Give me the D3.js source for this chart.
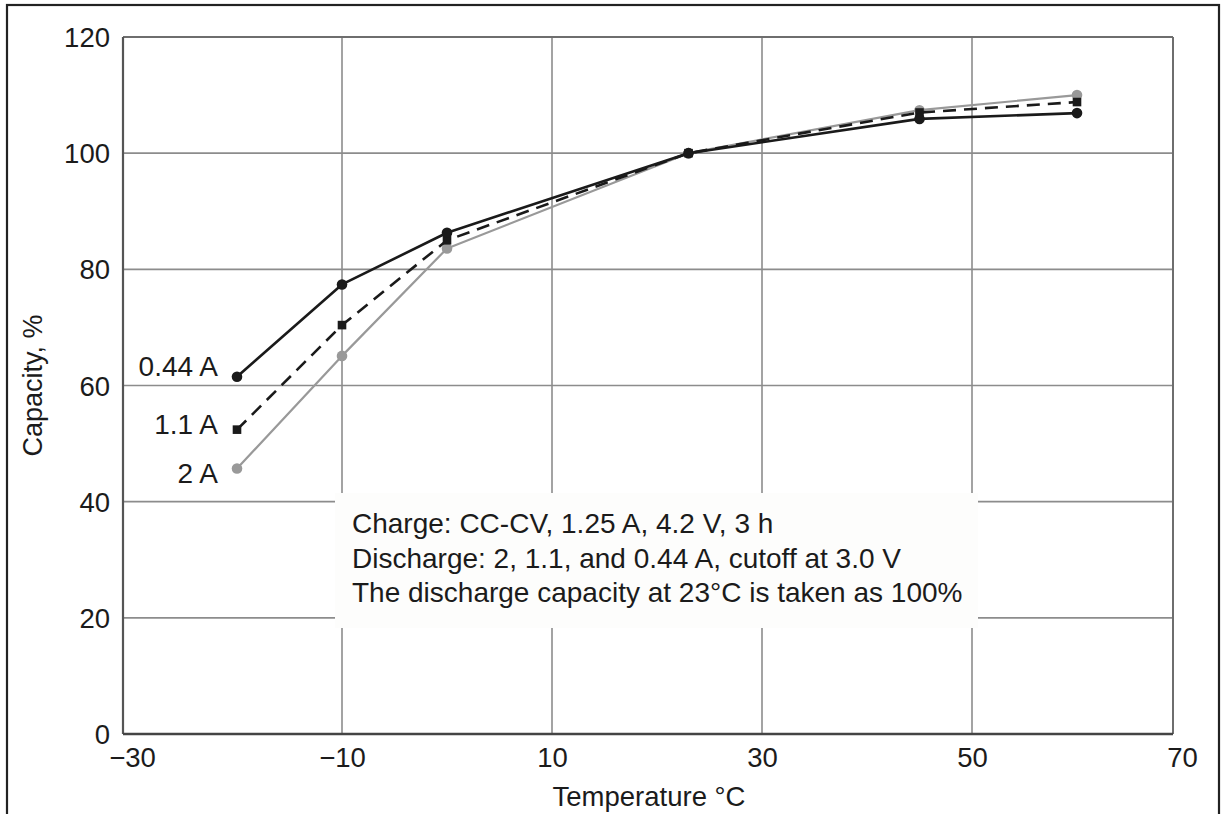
<!DOCTYPE html>
<html>
<head>
<meta charset="utf-8">
<script src="https://cdn.jsdelivr.net/npm/d3@7"></script>
<style>
  body { margin: 0; background: #fff; }
  svg { display: block; }
  text { font-family: "Liberation Sans", Arial, Helvetica, sans-serif; fill: #1b1b1b; }
</style>
</head>
<body>
<svg id="chart" width="1221" height="814"></svg>
<script>
// Discharge capacity (% of the 23 °C value) versus temperature, three discharge currents
const temperatures = [-20, -10, 0, 23, 45, 60];
const capacity044A = [61.5, 77.4, 86.3, 100, 105.9, 106.9];
const capacity11A  = [52.4, 70.4, 85.0, 100, 107.0, 108.8];
const capacity2A   = [45.7, 65.1, 83.6, 100, 107.4, 110.0];
const seriesLabels = ["0.44 A", "1.1 A", "2 A"];

const xTickValues = [-30, -10, 10, 30, 50, 70];
const yTickValues = [0, 20, 40, 60, 80, 100, 120];

const noteLines = [
  "Charge: CC-CV, 1.25 A, 4.2 V, 3 h",
  "Discharge: 2, 1.1, and 0.44 A, cutoff at 3.0 V",
  "The discharge capacity at 23\u00B0C is taken as 100%"
];

const svg = d3.select("#chart");

const x = d3.scaleLinear().domain([-30, 70]).range([132, 1182]);
const y = d3.scaleLinear().domain([0, 120]).range([734, 37]);

// plot frame sits slightly left of the tick positions
const frameShift = -9;
const frameLeft = x(-30) + frameShift;
const frameRight = x(70) + frameShift;

// outer figure border
svg.append("rect")
  .attr("x", 7).attr("y", 5).attr("width", 1212).attr("height", 840)
  .attr("fill", "none").attr("stroke", "#222").attr("stroke-width", 2.2);

// horizontal grid lines
svg.append("g")
  .selectAll("line")
  .data(yTickValues.filter(v => v > 0 && v < 120))
  .join("line")
  .attr("x1", frameLeft).attr("x2", frameRight)
  .attr("y1", d => y(d)).attr("y2", d => y(d))
  .attr("stroke", "#8c8c8c").attr("stroke-width", 1.6);

// vertical grid lines
svg.append("g")
  .selectAll("line")
  .data(xTickValues.filter(v => v > -30 && v < 70))
  .join("line")
  .attr("x1", d => x(d)).attr("x2", d => x(d))
  .attr("y1", y(0)).attr("y2", y(120))
  .attr("stroke", "#8c8c8c").attr("stroke-width", 1.6);

// frame: top/right lighter, left/bottom darker
svg.append("line").attr("x1", frameLeft).attr("x2", frameRight).attr("y1", y(120)).attr("y2", y(120))
  .attr("stroke", "#6e6e6e").attr("stroke-width", 2);
svg.append("line").attr("x1", frameRight).attr("x2", frameRight).attr("y1", y(120)).attr("y2", y(0))
  .attr("stroke", "#6e6e6e").attr("stroke-width", 2);
svg.append("line").attr("x1", frameLeft).attr("x2", frameLeft).attr("y1", y(120)).attr("y2", y(0))
  .attr("stroke", "#555").attr("stroke-width", 2.2);
svg.append("line").attr("x1", frameLeft).attr("x2", frameRight).attr("y1", y(0)).attr("y2", y(0))
  .attr("stroke", "#444").attr("stroke-width", 2.4);

// note box masks the grid behind it
svg.append("rect")
  .attr("x", 335).attr("y", 493).attr("width", 643).attr("height", 135)
  .attr("fill", "#fdfdfc");

svg.append("g")
  .selectAll("text")
  .data(noteLines)
  .join("text")
  .attr("x", 352)
  .attr("y", (d, i) => 533 + i * 34.5)
  .attr("font-size", 28)
  .text(d => d);

// x axis tick labels
const xAxis = d3.axisBottom(x).tickValues(xTickValues).tickSize(0).tickPadding(0)
  .tickFormat(d3.format("d"));
svg.append("g")
  .attr("transform", `translate(0,${y(0)})`)
  .call(xAxis)
  .call(g => g.select(".domain").remove())
  .call(g => g.selectAll("text").attr("font-size", 27.5).attr("fill", "#1b1b1b")
    .attr("font-family", "Liberation Sans, Arial, sans-serif").attr("dy", null).attr("y", 33));

// y axis tick labels
const yAxis = d3.axisLeft(y).tickValues(yTickValues).tickSize(0).tickPadding(0);
svg.append("g")
  .attr("transform", `translate(110,0)`)
  .call(yAxis)
  .call(g => g.select(".domain").remove())
  .call(g => g.selectAll("text").attr("font-size", 27.5).attr("fill", "#1b1b1b")
    .attr("font-family", "Liberation Sans, Arial, sans-serif").attr("x", 0).attr("dy", "0.35em"));

// axis titles
svg.append("text")
  .attr("x", (frameLeft + frameRight) / 2 + 1).attr("y", 806)
  .attr("text-anchor", "middle").attr("font-size", 27.5)
  .text("Temperature \u00B0C");

svg.append("text")
  .attr("transform", `translate(42,${(y(0) + y(120)) / 2}) rotate(-90)`)
  .attr("text-anchor", "middle").attr("font-size", 27)
  .text("Capacity, %");

// series
const series = [
  { name: seriesLabels[0], values: capacity044A, color: "#1a1a1a", width: 2.6, dash: null, marker: "circle", labelY: 61.7 },
  { name: seriesLabels[1], values: capacity11A, color: "#1a1a1a", width: 2.6, dash: "13,8", marker: "square", labelY: 51.7 },
  { name: seriesLabels[2], values: capacity2A, color: "#999", width: 2.2, dash: null, marker: "circle", labelY: 43.2 }
];

const line = d3.line().x(d => x(d[0])).y(d => y(d[1]));

// draw gray first so black lines sit on top
[series[2], series[1], series[0]].forEach(s => {
  const pts = temperatures.map((t, i) => [t, s.values[i]]);
  svg.append("path")
    .datum(pts)
    .attr("d", line)
    .attr("fill", "none")
    .attr("stroke", s.color)
    .attr("stroke-width", s.width)
    .attr("stroke-dasharray", s.dash)
    .attr("stroke-linejoin", "round");

  const g = svg.append("g");
  if (s.marker === "circle") {
    g.selectAll("circle").data(pts).join("circle")
      .attr("cx", d => x(d[0])).attr("cy", d => y(d[1])).attr("r", 5.3)
      .attr("fill", s.color);
  } else {
    g.selectAll("rect").data(pts).join("rect")
      .attr("x", d => x(d[0]) - 4.3).attr("y", d => y(d[1]) - 4.3)
      .attr("width", 8.6).attr("height", 8.6)
      .attr("fill", s.color);
  }

  svg.append("text")
    .attr("x", 218).attr("y", y(s.labelY))
    .attr("text-anchor", "end").attr("font-size", 28)
    .text(s.name);
});
</script>
</body>
</html>
